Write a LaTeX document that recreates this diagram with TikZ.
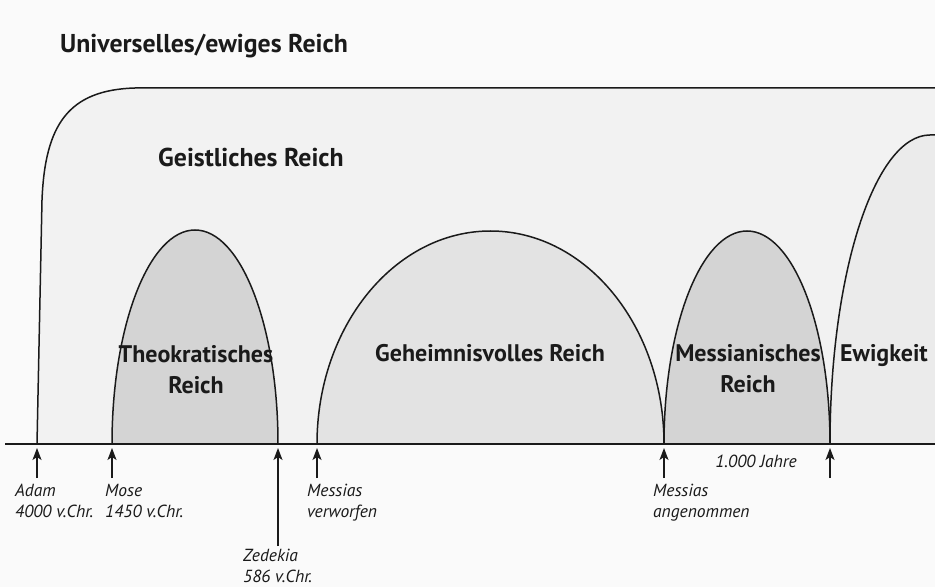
\documentclass[tikz,border=0pt]{standalone}
\usepackage{fontspec}
\setmainfont{PT Sans}
\usetikzlibrary{arrows.meta}
\definecolor{bgcol}{HTML}{FAFAFA}
\definecolor{outercol}{HTML}{F2F2F2}
\definecolor{darkarch}{HTML}{D4D4D4}
\definecolor{midarch}{HTML}{E3E3E3}
\definecolor{lightarch}{HTML}{EBEBEB}
\definecolor{ink}{HTML}{1A1A1A}
\tikzset{
  archline/.style={draw=ink, line width=1.5pt},
  timeline/.style={draw=ink, line width=2pt},
  marker/.style={draw=ink, line width=1.4pt, -{Stealth[length=12pt,width=9pt,inset=3pt]}},
  bigtitle/.style={inner sep=0pt, font=\fontsize{25.8}{31}\selectfont\bfseries, text=ink},
  archlabel/.style={inner sep=0pt, align=center, font=\fontsize{24}{31}\selectfont\bfseries, text=ink},
  datelabel/.style={inner sep=0pt, align=left, anchor=base west, font=\fontsize{17.5}{21}\selectfont\itshape, text=ink}
}
\begin{document}
\begin{tikzpicture}[x=1pt,y=1pt]
\useasboundingbox (0,0) rectangle (935,587);
\fill[bgcol] (0,0) rectangle (935,587);
% outer region (Geistliches Reich)
\fill[outercol] (37,143) -- (42,387) .. controls (45,462) and (68,497) .. (135,499) -- (935,499) -- (935,143) -- cycle;
\draw[archline] (37,143) -- (42,387) .. controls (45,462) and (68,497) .. (135,499) -- (935,499);
% arches
\fill[darkarch] (112,143) arc[start angle=180,end angle=0,x radius=83,y radius=214] -- cycle;
\draw[archline] (112,143) arc[start angle=180,end angle=0,x radius=83,y radius=214];
\fill[midarch] (317,143) arc[start angle=180,end angle=0,x radius=173.5,y radius=213] -- cycle;
\draw[archline] (317,143) arc[start angle=180,end angle=0,x radius=173.5,y radius=213];
\fill[darkarch] (664,143) arc[start angle=180,end angle=0,x radius=83,y radius=213] -- cycle;
\draw[archline] (664,143) arc[start angle=180,end angle=0,x radius=83,y radius=213];
\fill[lightarch] (830,143) arc[start angle=180,end angle=90,x radius=100,y radius=309] -- (935,452) -- (935,143) -- cycle;
\draw[archline] (830,143) arc[start angle=180,end angle=90,x radius=100,y radius=309] -- (935,452);
% timeline
\coordinate (lineL) at (5,143);
\coordinate (lineR) at (935,143);
\draw[timeline] (lineL) -- (lineR);
% arrow tips and tails
\coordinate (tipAdam) at (37,139);   \coordinate (tailAdam) at (37,109);
\coordinate (tipMose) at (112,139);  \coordinate (tailMose) at (112,109);
\coordinate (tipZed) at (278,139);   \coordinate (tailZed) at (278,41);
\coordinate (tipVerw) at (317,139);  \coordinate (tailVerw) at (317,109);
\coordinate (tipAnge) at (664,139);  \coordinate (tailAnge) at (664,109);
\coordinate (tipEnd) at (830,139);   \coordinate (tailEnd) at (830,109);
\foreach \n in {Adam,Mose,Zed,Verw,Ange,End}
  \draw[marker] (tail\n) -- (tip\n);
% titles
\node[bigtitle, anchor=base west] (universal) at (60,534) {Universelles/ewiges Reich};
\node[bigtitle, anchor=base west] (geistlich) at (158,420) {Geistliches Reich};
% arch labels (base = baseline of the last line)
\node[archlabel, anchor=base] (theo) at (196,193) {Theokratisches\\Reich};
\node[archlabel, anchor=base] (geheim) at (490,225) {Geheimnisvolles Reich};
\node[archlabel, anchor=base] (messreich) at (748,194) {Messianisches\\Reich};
\node[archlabel, anchor=base] (ewig) at (884,225) {Ewigkeit};
% date labels (base = baseline of the last line)
\node[datelabel] (adam) at (15,70) {Adam\\4000 v.Chr.};
\node[datelabel] (mose) at (105,70) {Mose\\1450 v.Chr.};
\node[datelabel] (zedekia) at (243,5) {Zedekia\\586 v.Chr.};
\node[datelabel] (verworfen) at (307,70) {Messias\\verworfen};
\node[datelabel] (angenommen) at (653,70) {Messias\\angenommen};
\node[datelabel, anchor=base] (jahre) at (756,120) {1.000 Jahre};
\end{tikzpicture}
\end{document}
